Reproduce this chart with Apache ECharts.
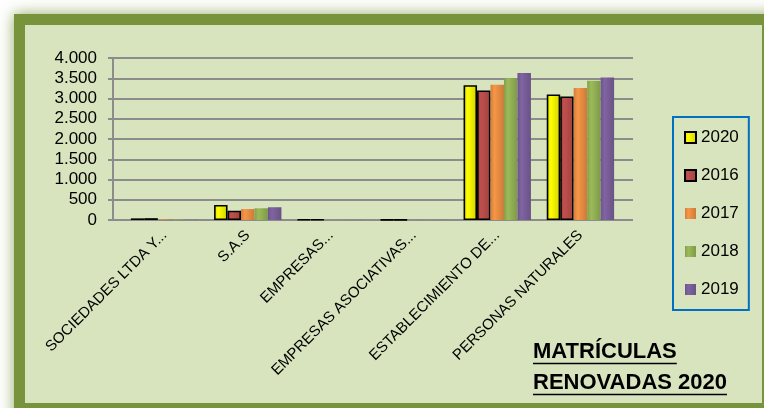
<!DOCTYPE html>
<html>
<head>
<meta charset="utf-8">
<script src="https://cdn.jsdelivr.net/npm/echarts@6/dist/echarts.min.js"></script>
<style>html,body{margin:0;padding:0;background:#fff}#c{width:764px;height:408px}</style>
</head>
<body>
<div id="c"></div>
<script>
// ---- data ----
var categories = ['SOCIEDADES LTDA Y...', 'S.A.S', 'EMPRESAS...', 'EMPRESAS ASOCIATIVAS...', 'ESTABLECIMIENTO DE...', 'PERSONAS NATURALES'];
var seriesNames = ['2020', '2016', '2017', '2018', '2019'];
var v2020 = [40, 370, 10, 5, 3330, 3100];
var v2016 = [45, 230, 15, 8, 3200, 3050];
var v2017 = [15, 270, 4, 3, 3340, 3260];
var v2018 = [10, 290, 3, 3, 3500, 3440];
var v2019 = [5, 315, 3, 3, 3630, 3520];
var yTicks = [0, 500, 1000, 1500, 2000, 2500, 3000, 3500, 4000];
var titleLines = ['MATRÍCULAS', 'RENOVADAS 2020'];

// ---- style ----
var colors = ['#FFFF00', '#C0504D', '#F79646', '#9BBB59', '#8064A2'];
var bordered = [true, true, false, false, false];
var values = [v2020, v2016, v2017, v2018, v2019];
var PANEL = '#D8E4BD', FRAME = '#77933C', GRID = '#8C8C8C';
var FONT = 'Liberation Sans';
var yMin = yTicks[0], yMax = yTicks[yTicks.length - 1], yStep = yTicks[1] - yTicks[0];

function shade(hex, f) {
  var n = parseInt(hex.slice(1), 16);
  var r = Math.round(((n >> 16) & 255) * f), g = Math.round(((n >> 8) & 255) * f), b = Math.round((n & 255) * f);
  return 'rgb(' + Math.min(r,255) + ',' + Math.min(g,255) + ',' + Math.min(b,255) + ')';
}
function grad(hex) {
  return new echarts.graphic.LinearGradient(0, 0, 1, 0, [
    {offset: 0, color: shade(hex, 0.85)},
    {offset: 0.3, color: hex},
    {offset: 1, color: shade(hex, 0.82)}
  ]);
}

var series = seriesNames.map(function (name, i) {
  return {
    name: name, type: 'bar', xAxisIndex: 2, yAxisIndex: 2,
    data: values[i],
    barGap: '0%', barCategoryGap: '19%',
    itemStyle: {
      color: grad(colors[i]),
      borderColor: bordered[i] ? '#000' : 'transparent',
      borderWidth: bordered[i] ? 1.6 : 0
    }
  };
});

// measure title widths for underline
var ctx = document.createElement('canvas').getContext('2d');
var titleFont = 'bold 22px "' + FONT + '"';
ctx.font = titleFont;
var tX = 533, tY = [341, 372];
var graphics = [
  {type: 'rect', z: -100, shape: {x: 14, y: 14, width: 800, height: 450},
   style: {fill: FRAME, shadowBlur: 14, shadowColor: 'rgba(119,147,60,0.8)'}},
  {type: 'rect', z: -99, shape: {x: 25, y: 25, width: 737, height: 378}, style: {fill: PANEL}}
];
titleLines.forEach(function (t, i) {
  var w = ctx.measureText(t).width;
  graphics.push({type: 'text', z: 10, x: tX, y: tY[i],
    style: {text: t, font: titleFont, fill: '#000', textVerticalAlign: 'top'}});
  graphics.push({type: 'line', z: 10, shape: {x1: tX, y1: tY[i] + 22.5, x2: tX + w, y2: tY[i] + 22.5},
    style: {stroke: '#000', lineWidth: 1.5}});
});

var hiddenY = function (gi) {
  return {gridIndex: gi, type: 'value', min: yMin, max: yMax, interval: yStep,
    axisLine: {show: false}, axisTick: {show: false}, axisLabel: {show: false}, splitLine: {show: false}};
};

var chart = echarts.init(document.getElementById('c'), null, {renderer: 'canvas'});
chart.setOption({
  backgroundColor: '#fff',
  animation: false,
  textStyle: {fontFamily: FONT},
  graphic: graphics,
  legend: {
    orient: 'vertical', left: 673, top: 117,
    data: seriesNames,
    itemWidth: 11, itemHeight: 11, itemGap: 21,
    padding: [12, 10, 12, 11],
    backgroundColor: PANEL, borderColor: '#0070C0', borderWidth: 2, borderRadius: 0,
    textStyle: {fontSize: 17, color: '#000', fontFamily: FONT},
    icon: 'rect'
  },
  grid: [
    {left: 113, top: 58, width: 520, height: 162},
    {left: 113, top: 58, width: 499, height: 162},
    {left: 123, top: 58, width: 499, height: 162}
  ],
  xAxis: [
    {gridIndex: 0, type: 'value', min: 0, max: 1, show: false},
    {gridIndex: 1, type: 'category', data: categories,
     axisLine: {lineStyle: {color: GRID, width: 2}},
     axisTick: {length: 5, lineStyle: {color: GRID, width: 2}},
     axisLabel: {show: false}},
    {gridIndex: 2, type: 'category', data: categories,
     axisLine: {show: false}, axisTick: {show: false},
     axisLabel: {rotate: 45, margin: 13, fontSize: 15, color: '#000', interval: 0, fontFamily: FONT}}
  ],
  yAxis: [
    {gridIndex: 0, type: 'value', min: yMin, max: yMax, interval: yStep,
     axisLine: {show: false}, axisTick: {show: false}, axisLabel: {show: false},
     splitLine: {show: true, lineStyle: {color: GRID, width: 2}}},
    {gridIndex: 1, type: 'value', min: yMin, max: yMax, interval: yStep,
     axisLine: {show: true, lineStyle: {color: GRID, width: 2}},
     axisTick: {show: true, length: 5, lineStyle: {color: GRID, width: 2}},
     splitLine: {show: false},
     axisLabel: {margin: 16, fontSize: 17, color: '#000', fontFamily: FONT,
       formatter: function (v) { return String(v).replace(/\B(?=(\d{3})+(?!\d))/g, '.'); }}},
    hiddenY(2)
  ],
  series: series
});
</script>
</body>
</html>
